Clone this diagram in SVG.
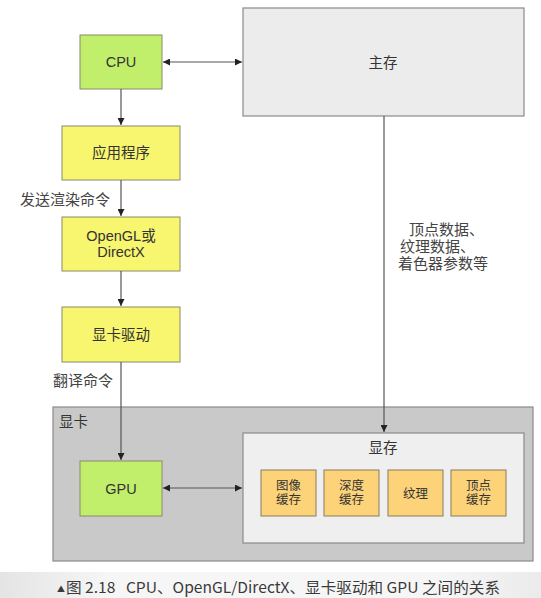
<svg xmlns="http://www.w3.org/2000/svg" width="541" height="598" viewBox="0 0 541 598">
<defs>
<marker id="ah" viewBox="0 0 10 10" refX="10" refY="5" markerWidth="7" markerHeight="7" orient="auto-start-reverse" markerUnits="userSpaceOnUse">
<path d="M0,0 L10,5 L0,10 z" fill="#222"/>
</marker>
<linearGradient id="cap" x1="0" y1="0" x2="1" y2="0">
<stop offset="0" stop-color="#e4e4e4"/>
<stop offset="0.2" stop-color="#f6f6f6"/>
<stop offset="0.8" stop-color="#f6f6f6"/>
<stop offset="1" stop-color="#ebebeb"/>
</linearGradient>
</defs>
<style>
text{font-family:"Liberation Sans","Noto Sans CJK SC",sans-serif;fill:#333;}
.lbl{font-size:14.5px;text-anchor:middle;}
.sm{font-size:12.5px;text-anchor:middle;}
.green{fill:#c2ef6b;stroke:#8a8a6a;stroke-width:1;}
.yellow{fill:#f8f56f;stroke:#8a8a6a;stroke-width:1;}
.orange{fill:#fdd37a;stroke:#8a7a5a;stroke-width:1;}
.conn{stroke:#555;stroke-width:1.2;fill:none;}
.edge{font-size:15px;fill:#444;}
.cap{font-size:15px;font-family:"Noto Sans CJK SC","DejaVu Sans Mono",monospace;fill:#3a3a3a;}
</style>
<rect width="541" height="598" fill="#ffffff"/>
<rect x="0" y="572" width="541" height="26" fill="url(#cap)"/>

<g id="card">
<rect x="53" y="407" width="480" height="154" fill="#c9c9c9" stroke="#8a8a8a" stroke-width="1.2"/>
<text x="59" y="427" style="font-size:14.5px">显卡</text>
</g>
<g id="mainmem">
<rect x="243" y="8" width="281" height="108" fill="#ececec" stroke="#8a8a8a" stroke-width="1.2"/>
<text class="lbl" x="383" y="68">主存</text>
</g>
<g id="cpu">
<rect class="green" x="80" y="35" width="82" height="54"/>
<text class="lbl" x="121" y="67">CPU</text>
</g>
<g id="app">
<rect class="yellow" x="62" y="126" width="118" height="54"/>
<text class="lbl" x="121" y="158">应用程序</text>
</g>
<g id="api">
<rect class="yellow" x="62" y="217" width="118" height="54"/>
<text class="lbl" x="121" y="241">OpenGL或</text>
<text class="lbl" x="121" y="257">DirectX</text>
</g>
<g id="driver">
<rect class="yellow" x="62" y="307" width="118" height="55"/>
<text class="lbl" x="121" y="340">显卡驱动</text>
</g>
<g id="gpu">
<rect class="green" x="80" y="461" width="82" height="55"/>
<text class="lbl" x="121" y="494">GPU</text>
</g>
<g id="vram">
<rect x="243" y="433" width="281" height="110" fill="#efefef" stroke="#8a8a8a" stroke-width="1.2"/>
<text class="lbl" x="383" y="453">显存</text>
</g>
<g id="framebuf">
<rect class="orange" x="261" y="470" width="55" height="46"/>
<text class="sm" x="288.5" y="490">图像</text>
<text class="sm" x="288.5" y="504">缓存</text>
</g>
<g id="depthbuf">
<rect class="orange" x="324" y="470" width="55" height="46"/>
<text class="sm" x="351.5" y="490">深度</text>
<text class="sm" x="351.5" y="504">缓存</text>
</g>
<g id="texture">
<rect class="orange" x="388" y="470" width="55" height="46"/>
<text class="sm" x="415.5" y="498">纹理</text>
</g>
<g id="vertexbuf">
<rect class="orange" x="451" y="470" width="55" height="46"/>
<text class="sm" x="478.5" y="490">顶点</text>
<text class="sm" x="478.5" y="504">缓存</text>
</g>

<g id="connectors">
<line class="conn" x1="163" y1="62" x2="242" y2="62" marker-start="url(#ah)" marker-end="url(#ah)"/>
<line class="conn" x1="121" y1="89" x2="121" y2="125" marker-end="url(#ah)"/>
<line class="conn" x1="121" y1="180" x2="121" y2="216" marker-end="url(#ah)"/>
<line class="conn" x1="121" y1="271" x2="121" y2="306" marker-end="url(#ah)"/>
<line class="conn" x1="121" y1="362" x2="121" y2="460" marker-end="url(#ah)"/>
<line class="conn" x1="384" y1="116" x2="384" y2="432" marker-end="url(#ah)"/>
<line class="conn" x1="163" y1="488" x2="242" y2="488" marker-start="url(#ah)" marker-end="url(#ah)"/>
<text class="edge" x="20" y="205">发送渲染命令</text>
<text class="edge" x="53" y="386">翻译命令</text>
<text class="edge" x="409" y="235">顶点数据、</text>
<text class="edge" x="400" y="252">纹理数据、</text>
<text class="edge" x="398" y="269">着色器参数等</text>
</g>

<text class="cap" x="57" y="592" style="font-size:8px">▲</text>
<text class="cap" x="66" y="593" xml:space="preserve" textLength="434" lengthAdjust="spacingAndGlyphs">图 2.18   CPU、OpenGL/DirectX、显卡驱动和 GPU 之间的关系</text>
</svg>
